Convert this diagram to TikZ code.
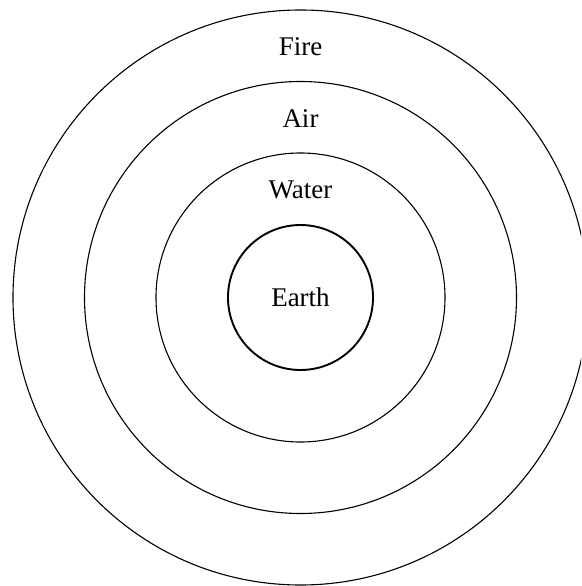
\documentclass[tikz,border=0pt]{standalone}
\usepackage{fontspec}
\setmainfont{Liberation Serif}
\usetikzlibrary{calc}
\usetikzlibrary{positioning}
\definecolor{fg}{rgb}{0,0,0}
\tikzstyle{ring}=[draw=fg, line width=1.1pt]
\tikzstyle{core}=[circle, draw=fg, line width=1.9pt, minimum size=145pt, inner sep=0pt,
text=fg, font=\fontsize{27}{32}\selectfont]
\tikzstyle{element}=[anchor=center, text=fg, inner sep=0pt, font=\fontsize{27}{32}\selectfont]

\begin{document}
\begin{tikzpicture}[x=1pt, y=1pt]

    \useasboundingbox (-300.5,297.5) rectangle (280.5,-288.5);
    \clip (-300.5,297.5) rectangle (280.5,-288.5);
    \coordinate (c) at (0,0);

    \node[core] (earth) at (c) {Earth};

    \draw[ring] (c) circle (144.5pt);
    \node[element] (water) at ($(c)+(0,107.5)$) {Water};

    \draw[ring] (c) circle (216pt);
    \node[element] (air) at ($(c)+(0,179)$) {Air};

    \draw[ring] (c) circle (287.5pt);
    \node[element] (fire) at ($(c)+(0,251)$) {Fire};
\end{tikzpicture}
\end{document}
